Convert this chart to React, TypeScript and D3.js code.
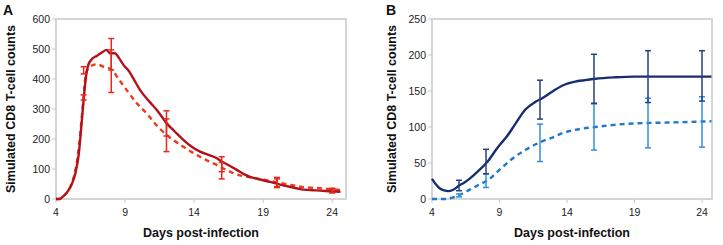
import React from "react";
import * as d3 from "d3";

// ---------- Panel A data ----------
const daysASolid = [4, 4.25, 4.5, 4.8, 5.1, 5.4, 5.65, 5.85, 6.0, 6.15, 6.34, 6.59, 6.95, 7.31, 7.67, 7.91, 8.28, 8.5, 8.88, 9.3, 9.6, 10.09, 10.8, 11.3, 12.02, 12.6, 13.22, 13.8, 14.43, 15.0, 15.65, 16.0, 16.37, 17.1, 17.6, 18.06, 18.78, 19.5, 20.23, 21.0, 21.68, 22.4, 23.13, 23.8, 24.6];
const valsASolid = [0, 0, 8, 22, 45, 85, 150, 250, 330, 400, 447, 466, 477, 488, 497, 486, 486, 474, 447, 425, 402, 363, 323, 297, 252, 225, 197, 175, 158, 148, 136, 125, 116, 97, 83, 74, 65, 57, 48, 40, 33, 30, 28, 26, 24];

const daysADash = [4, 4.25, 4.5, 4.8, 5.1, 5.4, 5.65, 5.85, 5.98, 6.17, 6.46, 6.95, 7.43, 8.03, 8.5, 9.12, 9.85, 10.57, 11.05, 12.02, 12.6, 13.22, 13.8, 14.43, 15.0, 15.65, 16.25, 16.85, 18.06, 18.78, 19.5, 20.2, 21.0, 21.7, 22.4, 23.1, 23.8, 24.6];
const valsADash = [0, 0, 8, 22, 48, 95, 170, 265, 330, 419, 441, 449, 441, 432, 402, 363, 319, 285, 258, 213, 193, 174, 157, 141, 127, 113, 99, 86, 72, 67, 60, 54, 47, 41, 38, 36, 33, 30];

const errDaysA = [6, 8, 12, 16, 20, 24];
const errASolidLow = [330, 430, 210, 91, 41, 20];
const errASolidHigh = [347, 535, 294, 141, 67, 33];
const errADashLow = [417, 355, 158, 67, 38, 22];
const errADashHigh = [441, 497, 267, 122, 72, 36];

// ---------- Panel B data ----------
const daysBSolid = [4, 4.3, 4.56, 4.9, 5.18, 5.54, 6.03, 6.4, 6.77, 7.38, 8.12, 8.73, 9.1, 9.47, 10.2, 10.9, 11.67, 12.16, 12.9, 13.6, 14.6, 15.3, 16.1, 17.55, 19.0, 21.0, 23.0, 24.7];
const valsBSolid = [28, 20, 15, 12, 11, 12.5, 19, 23, 28, 38, 52, 68, 77, 85, 105, 124, 135, 140, 149, 157, 163, 165, 167, 169, 170, 170, 170, 170];

const daysBDash = [4, 4.5, 5.05, 5.5, 6.03, 6.5, 7.0, 7.5, 8.12, 8.97, 9.95, 10.9, 12.16, 13.0, 13.6, 14.6, 16.1, 17.5, 19.0, 21.0, 23.0, 24.7];
const valsBDash = [0, 0, 0, 2, 5.5, 10, 15, 20, 26, 40, 56, 68, 80, 86, 91, 96, 100, 103, 105, 106, 107, 108];

const errDaysB = [6, 8, 12, 16, 20, 24];
const errBSolidLow = [11.5, 35, 111, 133, 134, 136];
const errBSolidHigh = [26, 69, 165, 201, 206, 206];
const errBDashLow = [3, 16, 52, 68, 71, 72];
const errBDashHigh = [7, 35, 104, 132, 140, 142];

const xTicks = [4, 9, 14, 19, 24];
const yTicksA = [0, 100, 200, 300, 400, 500, 600];
const yTicksB = [0, 50, 100, 150, 200, 250];

const FONT = "'Liberation Sans', Arial, sans-serif";

type Series = {
  days: number[];
  vals: number[];
  color: string;
  dashed: boolean;
  errLow: number[];
  errHigh: number[];
  errColor: string;
};

type PanelProps = {
  letter: string;
  letterX: number;
  left: number;
  right: number;
  top: number;
  bottom: number;
  xDomain: [number, number];
  yDomain: [number, number];
  yTicks: number[];
  series: Series[];
  errDays: number[];
  yTitleX: number;
};

function Panel(p: PanelProps) {
  const x = d3.scaleLinear().domain(p.xDomain).range([p.left, p.right]);
  const y = d3.scaleLinear().domain(p.yDomain).range([p.bottom, p.top]);
  const frame = "#c8c8c8";
  const cap = 3;
  return (
    <g>
      <text x={p.letterX} y={15} fontFamily={FONT} fontWeight={900} fontSize={14} fill="#111">
        {p.letter}
      </text>
      <rect x={p.left} y={p.top} width={p.right - p.left} height={p.bottom - p.top} fill="none" stroke={frame} strokeWidth={1.5} />
      {p.yTicks.map((t) => (
        <g key={"y" + t}>
          <line x1={p.left - 4} x2={p.left} y1={y(t)} y2={y(t)} stroke={frame} strokeWidth={1} />
          <text x={p.left - 6} y={y(t) + 3.8} textAnchor="end" fontFamily={FONT} fontSize={10.5} fill="#222">
            {t}
          </text>
        </g>
      ))}
      {xTicks.map((t) => (
        <g key={"x" + t}>
          <line x1={x(t)} x2={x(t)} y1={p.bottom} y2={p.bottom + 4} stroke={frame} strokeWidth={1} />
          <text x={x(t)} y={p.bottom + 17} textAnchor="middle" fontFamily={FONT} fontSize={10.5} fill="#222">
            {t}
          </text>
        </g>
      ))}
      <text
        x={(p.left + p.right) / 2}
        y={237}
        textAnchor="middle"
        fontFamily={FONT}
        fontWeight="bold"
        fontSize={12.5}
        fill="#111"
      >
        Days post-infection
      </text>
      <text
        transform={`translate(${p.yTitleX},${(p.top + p.bottom) / 2}) rotate(-90)`}
        textAnchor="middle"
        fontFamily={FONT}
        fontWeight="bold"
        fontSize={12.5}
        fill="#111"
      >
        Simulated CD8 T-cell counts
      </text>
      {p.series.map((s, i) => {
        const pts = s.days.map((d, k) => [d, s.vals[k]] as [number, number]);
        const line = d3
          .line<[number, number]>()
          .x((d) => x(d[0]))
          .y((d) => y(d[1]))
          .curve(d3.curveMonotoneX);
        return (
          <path
            key={"s" + i}
            d={line(pts) || ""}
            fill="none"
            stroke={s.color}
            strokeWidth={2.4}
            strokeDasharray={s.dashed ? "5,4" : undefined}
          />
        );
      })}
      {p.series.map((s, i) =>
        p.errDays.map((d, k) => (
          <g key={"e" + i + "-" + k} stroke={s.errColor} strokeWidth={1.5}>
            <line x1={x(d)} x2={x(d)} y1={y(s.errLow[k])} y2={y(s.errHigh[k])} />
            <line x1={x(d) - cap} x2={x(d) + cap} y1={y(s.errLow[k])} y2={y(s.errLow[k])} />
            <line x1={x(d) - cap} x2={x(d) + cap} y1={y(s.errHigh[k])} y2={y(s.errHigh[k])} />
          </g>
        ))
      )}
    </g>
  );
}

export default function App() {
  const seriesA: Series[] = [
    { days: daysADash, vals: valsADash, color: "#ee3a1c", dashed: true, errLow: errADashLow, errHigh: errADashHigh, errColor: "#e8281e" },
    { days: daysASolid, vals: valsASolid, color: "#b3121b", dashed: false, errLow: errASolidLow, errHigh: errASolidHigh, errColor: "#e02a20" },
  ];
  const seriesB: Series[] = [
    { days: daysBDash, vals: valsBDash, color: "#1f78c8", dashed: true, errLow: errBDashLow, errHigh: errBDashHigh, errColor: "#3290d8" },
    { days: daysBSolid, vals: valsBSolid, color: "#172f70", dashed: false, errLow: errBSolidLow, errHigh: errBSolidHigh, errColor: "#23407f" },
  ];
  return (
    <svg
      width={723}
      height={245}
      style={{ position: "absolute", left: 0, top: 0, background: "#fff" }}
    >
      <Panel
        letter="A"
        letterX={3}
        left={56}
        right={346}
        top={19}
        bottom={199}
        xDomain={[4, 25]}
        yDomain={[0, 600]}
        yTicks={yTicksA}
        series={seriesA}
        errDays={errDaysA}
        yTitleX={14.5}
      />
      <Panel
        letter="B"
        letterX={386}
        left={432}
        right={712}
        top={19}
        bottom={199}
        xDomain={[4, 24.74]}
        yDomain={[0, 250]}
        yTicks={yTicksB}
        series={seriesB}
        errDays={errDaysB}
        yTitleX={396}
      />
    </svg>
  );
}
